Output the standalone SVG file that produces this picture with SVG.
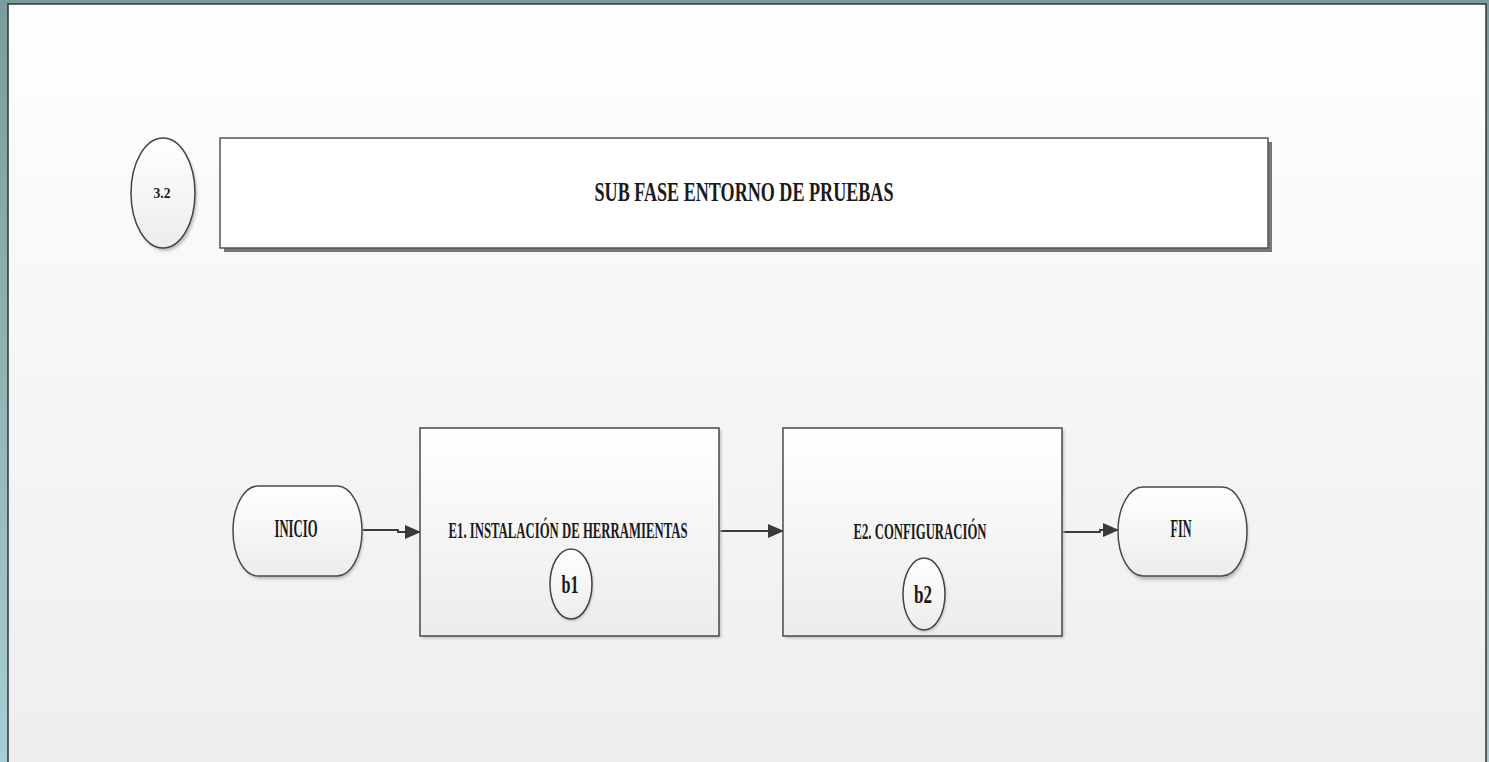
<svg xmlns="http://www.w3.org/2000/svg" width="1489" height="762" viewBox="0 0 1489 762">
  <defs>
    <linearGradient id="frameBg" x1="0" y1="0" x2="0" y2="1">
      <stop offset="0" stop-color="#7a9c9c"/>
      <stop offset="1" stop-color="#a7ced2"/>
    </linearGradient>
    <linearGradient id="pageBg" x1="0" y1="0" x2="0" y2="1">
      <stop offset="0" stop-color="#ffffff"/>
      <stop offset="0.35" stop-color="#f8f8f8"/>
      <stop offset="1" stop-color="#eeeeee"/>
    </linearGradient>
    <linearGradient id="nodeBg" x1="0" y1="0" x2="0" y2="1">
      <stop offset="0" stop-color="#ffffff"/>
      <stop offset="1" stop-color="#ececec"/>
    </linearGradient>
    <filter id="soft" x="-10%" y="-10%" width="130%" height="130%">
      <feGaussianBlur stdDeviation="1.5"/>
    </filter>
    <marker id="arrow" viewBox="0 0 16 14" refX="15" refY="7" markerWidth="16" markerHeight="14" markerUnits="userSpaceOnUse" orient="auto">
      <path d="M0,0 L16,7 L0,14 Z" fill="#3a3a3a"/>
    </marker>
  </defs>
  <style>
    .box { fill: url(#nodeBg); stroke: #4a4a4a; stroke-width: 1.5; }
    .title-box { fill: #ffffff; stroke: #555555; stroke-width: 1.5; }
    .shadow { fill: #777777; }
    .soft-shadow { fill: #bbbbbb; filter: url(#soft); }
    .ring { fill: url(#nodeBg); stroke: #444444; stroke-width: 1.5; }
    .lbl { font-family: "Liberation Serif", "DejaVu Serif", serif; font-weight: bold; fill: #1a1a1a; text-anchor: middle; }
    .conn { fill: none; stroke: #3a3a3a; stroke-width: 1.8; }
  </style>

  <!-- window frame and page -->
  <rect x="0" y="0" width="1489" height="762" fill="url(#frameBg)"/>
  <rect x="8" y="4" width="1478" height="762" fill="url(#pageBg)" stroke="#333333" stroke-width="1.5"/>

  <!-- phase marker -->
  <g id="phase-number">
    <ellipse cx="165" cy="196" rx="32" ry="55" class="soft-shadow"/>
    <ellipse cx="163" cy="193" rx="32" ry="55" class="ring"/>
    <text x="162" y="198" class="lbl" font-size="15" textLength="17" lengthAdjust="spacingAndGlyphs">3.2</text>
  </g>

  <!-- phase title -->
  <g id="phase-title">
    <rect x="224" y="142" width="1048" height="110" class="shadow"/>
    <rect x="220" y="138" width="1048" height="110" class="title-box"/>
    <text x="744" y="201" class="lbl" font-size="27" textLength="299" lengthAdjust="spacingAndGlyphs">SUB FASE ENTORNO DE PRUEBAS</text>
  </g>

  <!-- connectors -->
  <g id="connectors">
    <path d="M362,530 H398 V532 H420" class="conn" marker-end="url(#arrow)"/>
    <path d="M719,531 H783" class="conn" marker-end="url(#arrow)"/>
    <path d="M1062,532 H1100 V530 H1118" class="conn" marker-end="url(#arrow)"/>
  </g>

  <!-- start -->
  <g id="inicio">
    <path d="M260,489 H338 A25,45 0 0 1 338,579 H260 A25,45 0 0 1 260,489 Z" class="soft-shadow"/>
    <path d="M258,486 H337 A25,45 0 0 1 337,576 H258 A25,45 0 0 1 258,486 Z" class="box"/>
    <text x="296" y="537" class="lbl" font-size="25" textLength="43" lengthAdjust="spacingAndGlyphs">INICIO</text>
  </g>

  <!-- step E1 -->
  <g id="e1">
    <rect x="422" y="430" width="299" height="208" class="soft-shadow"/>
    <rect x="420" y="428" width="299" height="208" class="box"/>
    <text x="568" y="538" class="lbl" font-size="24" textLength="239" lengthAdjust="spacingAndGlyphs">E1. INSTALACIÓN DE HERRAMIENTAS</text>
    <ellipse cx="572" cy="586" rx="21" ry="35" class="soft-shadow"/>
    <ellipse cx="571" cy="584" rx="21" ry="35" class="ring"/>
    <text x="570" y="593" class="lbl" font-size="26" textLength="17" lengthAdjust="spacingAndGlyphs">b1</text>
  </g>

  <!-- step E2 -->
  <g id="e2">
    <rect x="785" y="430" width="279" height="208" class="soft-shadow"/>
    <rect x="783" y="428" width="279" height="208" class="box"/>
    <text x="920" y="539" class="lbl" font-size="24" textLength="133" lengthAdjust="spacingAndGlyphs">E2. CONFIGURACIÓN</text>
    <ellipse cx="925" cy="596" rx="21" ry="36" class="soft-shadow"/>
    <ellipse cx="924" cy="594" rx="21" ry="36" class="ring"/>
    <text x="923" y="603" class="lbl" font-size="26" textLength="18" lengthAdjust="spacingAndGlyphs">b2</text>
  </g>

  <!-- end -->
  <g id="fin">
    <path d="M1145,490 H1223 A25,45 0 0 1 1223,580 H1145 A25,45 0 0 1 1145,490 Z" class="soft-shadow"/>
    <path d="M1143,487 H1222 A25,44.5 0 0 1 1222,576 H1143 A25,44.5 0 0 1 1143,487 Z" class="box"/>
    <text x="1181" y="537" class="lbl" font-size="25" textLength="21" lengthAdjust="spacingAndGlyphs">FIN</text>
  </g>
</svg>
